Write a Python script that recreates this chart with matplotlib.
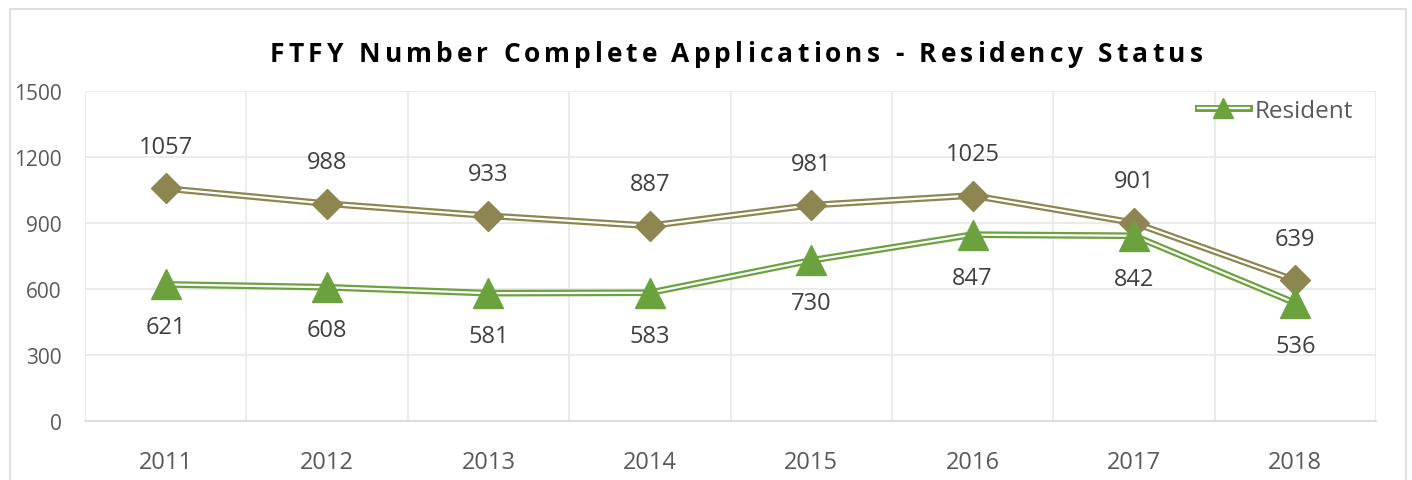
import matplotlib.pyplot as plt
import matplotlib.patheffects as pe
from matplotlib.font_manager import FontProperties
from matplotlib.legend_handler import HandlerTuple
from matplotlib.lines import Line2D
from matplotlib.patches import Rectangle

years = ['2011', '2012', '2013', '2014', '2015', '2016', '2017', '2018']
total = [1057, 988, 933, 887, 981, 1025, 901, 639]
resident = [621, 608, 581, 583, 730, 847, 842, 536]
yticks = [0, 300, 600, 900, 1200, 1500]
title = 'FTFY Number Complete Applications - Residency Status'

c_total = '#8E8650'
c_res = '#6BA23E'
c_grid = '#E8E8E8'
c_tick = '#595959'
c_lab = '#404040'
font = 'Open Sans'

W, H = 1412, 481
fig = plt.figure(figsize=(W / 100, H / 100), dpi=100)

# chart border
fig.patches.append(Rectangle((10 / W, -0.1), (1406 - 10) / W, 1.1 - 10 / H,
                             transform=fig.transFigure, fill=False,
                             edgecolor='#D9D9D9', lw=1.2))

ax = fig.add_axes([85 / W, 1 - 422 / H, (1376 - 85) / W, (422 - 92) / H])
x = list(range(len(years)))

def double_line(xs, ys, color):
    ax.plot(xs, ys, color='white', lw=1.6, solid_joinstyle='miter', zorder=3,
            path_effects=[pe.Stroke(linewidth=4.8, foreground=color), pe.Normal()])

double_line(x, total, c_total)
double_line(x, resident, c_res)
ax.plot(x, total, ls='none', marker='D', ms=15.5, color=c_total, zorder=4)
ax.plot(x, resident, ls='none', marker='^', ms=22, color=c_res, zorder=4)

for i, v in enumerate(total):
    ax.annotate(str(v), (i, v), xytext=(0, 30), textcoords='offset points',
                ha='center', va='center', fontsize=17, color=c_lab, family=font)
for i, v in enumerate(resident):
    ax.annotate(str(v), (i, v), xytext=(0, -31), textcoords='offset points',
                ha='center', va='center', fontsize=17, color=c_lab, family=font)

ax.set_xlim(-0.5, len(years) - 0.5)
ax.set_ylim(0, 1500)
ax.set_xticks(x)
ax.set_xticklabels(years, fontsize=17, color=c_tick, family=font)
ax.set_yticks(yticks)
ax.set_yticklabels([str(t) for t in yticks], fontsize=15, color=c_tick, family=font)
ax.set_xticks([i - 0.5 for i in range(len(years) + 1)], minor=True)
ax.tick_params(which='both', length=0)
ax.tick_params(axis='x', pad=21)
ax.tick_params(axis='y', pad=17)
ax.grid(axis='y', which='major', color=c_grid, lw=1.2)
ax.grid(axis='x', which='minor', color=c_grid, lw=1.2)
for s in ['top', 'right', 'left']:
    ax.spines[s].set_visible(False)
ax.spines['bottom'].set_color('#D9D9D9')
ax.spines['bottom'].set_linewidth(1.2)
ax.set_axisbelow(True)

# legend (resident only)
leg_line = Line2D([], [], color='white', lw=1.6,
                  path_effects=[pe.Stroke(linewidth=5, foreground=c_res), pe.Normal()])
leg_mark = Line2D([], [], ls='none', marker='^', ms=14, color=c_res)
ax.legend([(leg_line, leg_mark)], ['Resident'],
          handler_map={tuple: HandlerTuple(ndivide=1)},
          loc='upper right', bbox_to_anchor=(1353 / W, 1 - 100 / H),
          bbox_transform=fig.transFigure, frameon=False, borderpad=0,
          borderaxespad=0, handlelength=2.1, handletextpad=0.25,
          prop={'family': font, 'size': 17.5}, labelcolor=c_tick)

# title with letter spacing, drawn one character at a time
fp = FontProperties(family=font, weight='bold', size=19)
r = fig.canvas.get_renderer()
base = r.get_text_width_height_descent('xx', fp, ismath=False)[0]
adv = [r.get_text_width_height_descent('x' + ch + 'x', fp, ismath=False)[0] - base
       for ch in title]
t_left, t_right = 270, 1203
track = (t_right - t_left - sum(adv)) / (len(title) - 1)
px = t_left
for ch, a in zip(title, adv):
    fig.text(px / W, 1 - 62 / H, ch, fontproperties=fp, color='black',
             ha='left', va='baseline')
    px += a + track

fig.savefig('out.png', dpi=100)
